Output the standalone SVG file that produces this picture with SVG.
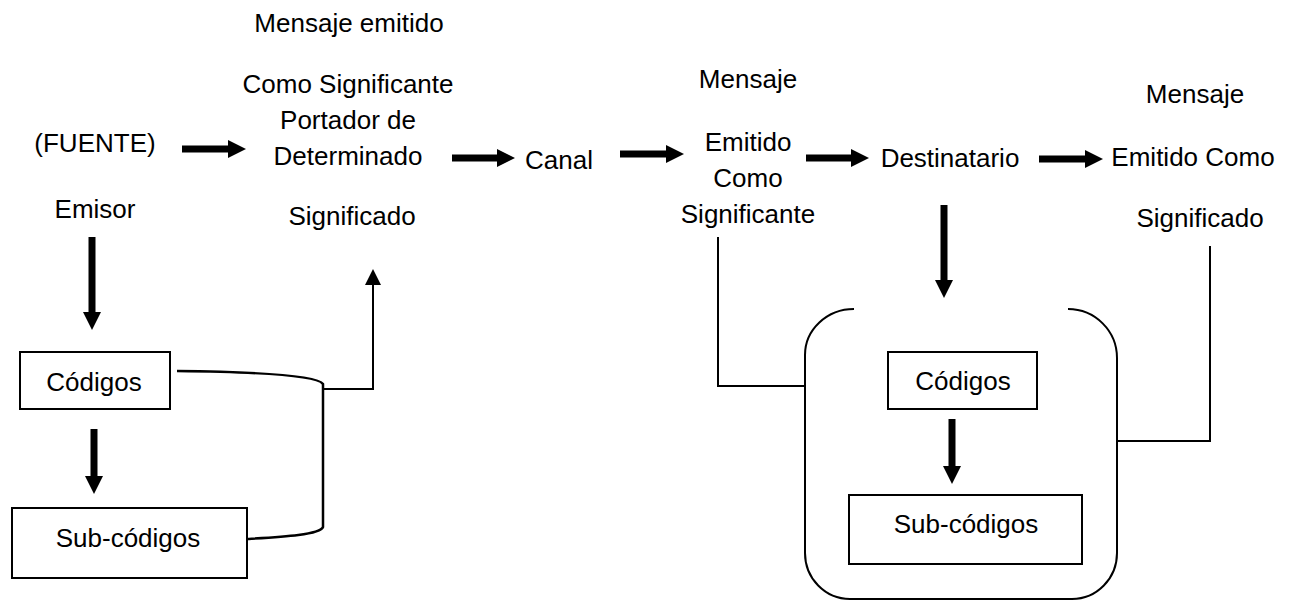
<svg xmlns="http://www.w3.org/2000/svg" width="1296" height="600" viewBox="0 0 1296 600">
<style>
text{font-family:"Liberation Sans",Arial,sans-serif;font-size:26px;fill:#000;text-anchor:middle}
.box{fill:#fff;stroke:#000;stroke-width:2}
.thick{stroke:#000;stroke-width:7;fill:none}
.thin{stroke:#000;stroke-width:2;fill:none}
.mid{stroke:#000;stroke-width:2.5;fill:none}
</style>
<defs>
<marker id="bh" markerUnits="userSpaceOnUse" markerWidth="18" markerHeight="18" refX="0" refY="9" orient="auto"><path d="M0,0 L18,9 L0,18 z" fill="#000"/></marker>
<marker id="th" markerUnits="userSpaceOnUse" markerWidth="16" markerHeight="16" refX="0" refY="8" orient="auto"><path d="M0,0 L16,8 L0,16 z" fill="#000"/></marker>
</defs>
<rect width="1296" height="600" fill="#fff"/>
<g id="connectors">
<line class="thick" x1="182" y1="149" x2="228" y2="149" marker-end="url(#bh)"/>
<line class="thick" x1="452" y1="158" x2="497" y2="158" marker-end="url(#bh)"/>
<line class="thick" x1="620" y1="154" x2="666" y2="154" marker-end="url(#bh)"/>
<line class="thick" x1="806" y1="158" x2="851" y2="158" marker-end="url(#bh)"/>
<line class="thick" x1="1039" y1="159" x2="1085" y2="159" marker-end="url(#bh)"/>
<line class="thick" x1="92" y1="237" x2="92" y2="312" marker-end="url(#bh)"/>
<line class="thick" x1="94" y1="429" x2="94" y2="476" marker-end="url(#bh)"/>
<line class="thick" x1="944" y1="205" x2="944" y2="280" marker-end="url(#bh)"/>
<line class="thick" x1="952" y1="419" x2="952" y2="466" marker-end="url(#bh)"/>
<path class="mid" d="M177,371 C260,372 318,376 323,384 L323,527 C320,535 280,537 247,539"/>
<path class="thin" d="M323,389 L373,389 L373,285" marker-end="url(#th)"/>
<path class="thin" d="M718,237 L718,386 L805,386"/>
<path class="thin" d="M1118,441 L1210,441 L1210,246"/>
</g>
<g id="fuente"><text x="95" y="152">(FUENTE)</text><text x="95" y="218">Emisor</text></g>
<g id="mensaje-emitido">
<text x="349" y="32">Mensaje emitido</text>
<text x="348" y="93">Como Significante</text>
<text x="348" y="129">Portador de</text>
<text x="348" y="165">Determinado</text>
<text x="352" y="225">Significado</text>
</g>
<g id="canal"><text x="559" y="169">Canal</text></g>
<g id="mensaje-significante">
<text x="748" y="88">Mensaje</text>
<text x="748" y="151">Emitido</text>
<text x="748" y="187">Como</text>
<text x="748" y="223">Significante</text>
</g>
<g id="destinatario"><text x="950" y="167">Destinatario</text></g>
<g id="mensaje-significado">
<text x="1195" y="103">Mensaje</text>
<text x="1193" y="166">Emitido Como</text>
<text x="1200" y="227">Significado</text>
</g>
<g id="codigos-emisor"><rect class="box" x="20" y="352" width="150" height="57"/><text x="94" y="391">Códigos</text></g>
<g id="subcodigos-emisor"><rect class="box" x="12" y="508" width="235" height="70"/><text x="128" y="547">Sub-códigos</text></g>
<g id="receptor-grupo">
<path class="thin" d="M854,309 A49,46 0 0 0 805,355 L805,553 A45,46 0 0 0 850,599 L1072,599 A45,46 0 0 0 1117,553 L1117,358 A49,49 0 0 0 1068,309"/>
</g>
<g id="codigos-destinatario"><rect class="box" x="888" y="352" width="149" height="57"/><text x="963" y="390">Códigos</text></g>
<g id="subcodigos-destinatario"><rect class="box" x="849" y="495" width="233" height="69"/><text x="966" y="533">Sub-códigos</text></g>
</svg>
